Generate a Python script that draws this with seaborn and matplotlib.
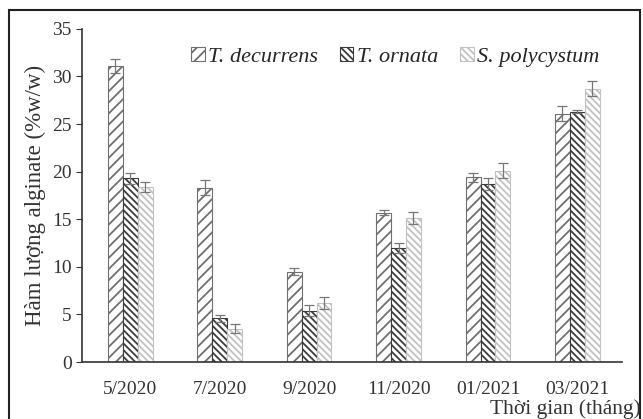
import numpy as np
import pandas as pd
import matplotlib
matplotlib.use("Agg")
import matplotlib.pyplot as plt
from matplotlib.patches import Rectangle, Patch
import seaborn as sns

# Dữ liệu
thang = ["5/2020", "7/2020", "9/2020", "11/2020", "01/2021", "03/2021"]
loai = ["T. decurrens", "T. ornata", "S. polycystum"]
t_decurrens = [31.1, 18.3, 9.5, 15.7, 19.4, 26.1]
t_ornata = [19.3, 4.6, 5.4, 12.0, 18.7, 26.3]
s_polycystum = [18.4, 3.5, 6.2, 15.1, 20.1, 28.7]
err_decurrens = [0.7, 0.8, 0.4, 0.3, 0.5, 0.8]
err_ornata = [0.6, 0.35, 0.6, 0.55, 0.6, 0.15]
err_polycystum = [0.5, 0.45, 0.65, 0.65, 0.8, 0.8]

def main():
    df = pd.DataFrame({
        "thang": thang * 3,
        "loai": [loai[0]] * 6 + [loai[1]] * 6 + [loai[2]] * 6,
        "gia_tri": t_decurrens + t_ornata + s_polycystum,
    })
    errs = err_decurrens + err_ornata + err_polycystum

    sns.set_style("white")
    plt.rcParams["font.family"] = ["Liberation Serif", "DejaVu Serif"]
    plt.rcParams["hatch.linewidth"] = 1.3

    fig = plt.figure(figsize=(6.43, 4.19), dpi=100)
    ax = fig.add_axes([0.1275, 0.136, 0.84, 0.795])

    sns.barplot(data=df, x="thang", y="gia_tri", hue="loai", order=thang,
                hue_order=loai, errorbar=None, width=0.5, dodge=True,
                palette=["white"] * 3, legend=False, ax=ax)

    hatches = ["///", "\\\\\\\\\\", "\\\\\\\\\\"]
    hcolors = ["#707070", "#3c3c3c", "#c2c2c2"]
    bars = ax.patches
    for i, bar in enumerate(bars[:18]):
        k = i // 6
        bar.set_hatch(hatches[k])
        bar.set_edgecolor(hcolors[k])
        bar.set_linewidth(0.8)
        x = bar.get_x() + bar.get_width() / 2
        ax.errorbar(x, bar.get_height(), yerr=errs[i], color="#777777",
                    capsize=3.5, elinewidth=0.9, capthick=0.9, fmt="none")

    ax.set_ylim(0, 35)
    ax.set_xlim(-0.54, 5.5)
    ax.set_yticks(range(0, 36, 5))
    ax.tick_params(axis="y", direction="out", length=4, width=0.8,
                   labelsize=14, left=True, colors="#333333")
    ax.tick_params(axis="x", length=0, labelsize=14, pad=14, colors="#333333")
    for s in ["top", "right"]:
        ax.spines[s].set_visible(False)
    for s in ["left", "bottom"]:
        ax.spines[s].set_color("#333333")
        ax.spines[s].set_linewidth(1.2)
    ax.set_ylabel("Hàm lượng alginate (%w/w)", fontsize=16.5, color="#333333",
                  labelpad=4)
    ax.set_xlabel("")
    fig.text(0.997, 0.0, "Thời gian (tháng)", ha="right", va="bottom",
             fontsize=15.5, color="#333333")

    handles = [Patch(facecolor="white", edgecolor=hcolors[k], hatch=hatches[k],
                     linewidth=0.8) for k in range(3)]
    ax.legend(handles, loai, loc="upper center", bbox_to_anchor=(0.58, 1.005),
              ncol=3, frameon=False, handlelength=0.6, handleheight=0.6,
              handletextpad=0.15, columnspacing=1.0,
              prop={"family": "Liberation Serif", "style": "italic", "size": 16})

    fig.patches.append(Rectangle((0.014, -0.01), 0.981, 0.986, transform=fig.transFigure,
                                 fill=False, edgecolor="#222222", linewidth=1.5))

    fig.savefig("out.png", dpi=100)

if __name__ == "__main__":
    main()
